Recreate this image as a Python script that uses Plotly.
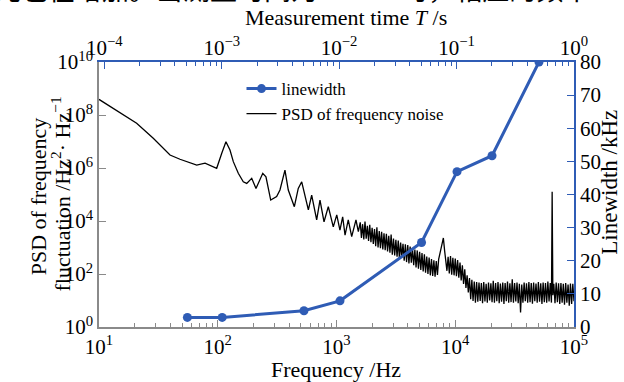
import plotly.graph_objects as go

# ---------------- data ----------------
# Linewidth vs. frequency (blue series, right axis, kHz)
lw_freq_hz = [55.5, 109, 532, 1070, 5200, 10350, 20400, 50700]
lw_khz = [2.9, 2.9, 4.9, 7.9, 25.5, 46.9, 51.7, 80.0]

# PSD of frequency noise (black trace, left axis) as log10 values
psd_log10_freq = [
    1.000, 1.317, 1.457, 1.598, 1.682, 1.823, 1.893, 1.991, 2.033, 2.069,
    2.103, 2.131, 2.173, 2.215, 2.244, 2.286, 2.322, 2.379, 2.406, 2.446,
    2.496, 2.524, 2.566, 2.594, 2.645, 2.678, 2.707, 2.735, 2.763, 2.791,
    2.833, 2.861, 2.895, 2.931, 2.973, 3.002, 3.029, 3.052, 3.072, 3.099,
    3.128, 3.164, 3.184,
    3.20, 3.21, 3.22, 3.23, 3.24, 3.25, 3.26, 3.27, 3.28, 3.29,
    3.30, 3.31, 3.32, 3.33, 3.34, 3.35, 3.36, 3.37, 3.38, 3.39,
    3.40, 3.41, 3.42, 3.43, 3.44, 3.45, 3.46, 3.47, 3.48, 3.49,
    3.50, 3.51, 3.52, 3.53, 3.54, 3.55, 3.56, 3.57, 3.58, 3.59,
    3.60, 3.61, 3.62, 3.63, 3.64, 3.65, 3.66, 3.67, 3.68, 3.69,
    3.70, 3.71, 3.72, 3.73, 3.74, 3.75, 3.76, 3.77, 3.78, 3.79,
    3.80, 3.81, 3.82, 3.83, 3.84, 3.85, 3.86, 3.87, 3.88, 3.89,
    3.90, 3.91, 3.92, 3.93, 3.94, 3.95, 3.96, 3.97, 3.98, 3.99,
    4.00, 4.01, 4.02, 4.03, 4.04, 4.05, 4.06, 4.07, 4.08, 4.09,
    4.10, 4.11, 4.12, 4.13, 4.14, 4.15, 4.16, 4.17, 4.18, 4.19,
    4.20, 4.21, 4.22, 4.23, 4.24, 4.25, 4.26, 4.27, 4.28, 4.29,
    4.30, 4.31, 4.32, 4.33, 4.34, 4.35, 4.36, 4.37, 4.38, 4.39,
    4.40, 4.41, 4.42, 4.43, 4.44, 4.45, 4.46, 4.47, 4.48, 4.49,
    4.50, 4.51, 4.52, 4.53, 4.54, 4.55, 4.56, 4.57, 4.58, 4.59,
    4.60, 4.61, 4.62, 4.63, 4.64, 4.65, 4.66, 4.67, 4.68, 4.69,
    4.70, 4.71, 4.72, 4.73, 4.74, 4.75, 4.76, 4.77, 4.78, 4.79,
    4.80, 4.81, 4.816, 4.822, 4.83, 4.84, 4.85, 4.86, 4.87, 4.88,
    4.89, 4.90, 4.91, 4.92, 4.93, 4.94, 4.95, 4.96, 4.97, 4.98,
    4.99, 5.00,
]
psd_log10_value = [
    8.59, 7.69, 7.12, 6.49, 6.33, 6.11, 6.18, 5.99, 6.55, 6.99,
    6.68, 6.24, 5.80, 5.48, 5.42, 5.61, 5.23, 5.80, 5.67, 4.79,
    4.92, 5.17, 5.92, 5.17, 4.54, 5.23, 5.48, 4.92, 4.42, 4.98,
    4.04, 4.79, 3.97, 4.54, 3.78, 4.23, 3.66, 4.16, 3.47, 4.04,
    3.41, 4.04, 3.60,
    3.95, 3.36, 3.88, 3.30, 3.98, 3.33, 3.82, 3.25, 3.86, 3.20,
    3.74, 3.13, 3.70, 3.05, 3.76, 3.00, 3.62, 2.97, 3.59, 2.93,
    3.54, 2.90, 3.52, 2.85, 3.44, 2.80, 3.49, 2.73, 3.34, 2.70,
    3.29, 2.65, 3.26, 2.57, 3.19, 2.63, 3.14, 2.50, 3.12, 2.45,
    3.09, 2.40, 3.04, 2.43, 2.96, 2.33, 2.92, 2.25, 2.89, 2.20,
    2.84, 2.15, 2.79, 2.10, 2.74, 2.05, 2.66, 2.00, 2.62, 1.95,
    2.56, 1.93, 2.52, 1.90, 2.49, 1.96, 2.55, 2.75, 3.05, 3.20,
    3.36, 2.90, 2.60, 2.12, 2.65, 2.02, 2.68, 1.97, 2.61, 1.95,
    2.58, 1.92, 2.53, 1.86, 2.43, 1.76, 2.33, 1.62, 2.18, 1.47,
    1.95, 1.30, 1.85, 1.05, 1.78, 0.98, 1.72, 0.92, 1.70, 0.95,
    1.68, 0.98, 1.66, 0.90, 1.70, 0.96, 1.63, 0.92, 1.68, 1.00,
    1.65, 0.94, 1.74, 0.92, 1.66, 0.97, 1.70, 0.90, 1.64, 0.95,
    1.68, 0.87, 1.66, 0.97, 1.72, 0.92, 1.65, 0.94, 1.80, 0.92,
    1.66, 0.96, 1.68, 0.90, 1.63, 0.55, 1.60, 0.92, 1.68, 0.97,
    1.65, 0.92, 1.70, 0.94, 1.66, 0.88, 1.68, 0.97, 1.64, 0.92,
    1.70, 0.95, 1.65, 0.87, 1.68, 0.94, 1.66, 0.92, 1.72, 0.96,
    1.66, 0.92, 5.10, 1.20, 1.63, 0.90, 1.68, 0.94, 1.65, 0.87,
    1.66, 0.92, 1.63, 0.84, 1.66, 0.92, 1.60, 0.80, 1.64, 0.87,
    1.63, 0.97,
]

bottom_tick_exponents = [1, 2, 3, 4, 5]
top_tick_exponents = [-4, -3, -2, -1, 0]
left_tick_exponents = [0, 2, 4, 6, 8, 10]
right_ticks = [0, 10, 20, 30, 40, 50, 60, 70, 80]

# ---------------- style ----------------
BLUE = "#2f5cb5"
GREY = "#8a8a8a"
SERIF = "Liberation Serif, Times New Roman, serif"
FS = 22     # axis titles
TFS = 21    # tick labels

psd_freq = [10 ** v for v in psd_log10_freq]
psd_val = [10 ** v for v in psd_log10_value]

def sup(e):
    return "10<sup>" + str(e).replace("-", "\u2212") + "</sup>"

fig = go.Figure()
fig.add_trace(go.Scatter(
    x=lw_freq_hz, y=lw_khz, xaxis="x", yaxis="y2", name="linewidth",
    mode="lines+markers", line=dict(color=BLUE, width=3),
    marker=dict(color=BLUE, size=9, symbol="circle"),
))
fig.add_trace(go.Scatter(
    x=psd_freq, y=psd_val, xaxis="x", yaxis="y", name="PSD of frequency noise",
    mode="lines", line=dict(color="black", width=1.3),
))
# empty trace so that the top (measurement time) axis is drawn
fig.add_trace(go.Scatter(x=[], y=[], xaxis="x2", yaxis="y", showlegend=False,
                         hoverinfo="skip"))

minor_bottom = [m * 10 ** k for k in range(1, 5) for m in range(2, 10)]
minor_top = [m * 10 ** k for k in range(-5, 0) for m in range(2, 10)]

fig.update_layout(
    width=624, height=382,
    margin=dict(l=99, r=50, t=62, b=55, autoexpand=False),
    paper_bgcolor="white", plot_bgcolor="white",
    font=dict(family=SERIF, size=FS, color="black"),
    showlegend=True,
    legend=dict(x=0.30, y=0.814, yref="container", xanchor="left", yanchor="top",
                bgcolor="rgba(0,0,0,0)", font=dict(size=17, family=SERIF),
                itemwidth=30, tracegroupgap=0),
    xaxis=dict(
        type="log", range=[1, 5], side="bottom", showgrid=False, zeroline=False,
        showline=True, linecolor=GREY, linewidth=1.5,
        ticks="inside", ticklen=7, tickcolor=GREY, tickwidth=1,
        tickmode="array", tickvals=[10 ** e for e in bottom_tick_exponents],
        ticktext=[sup(e) for e in bottom_tick_exponents],
        minor=dict(tickmode="array", tickvals=minor_bottom, ticks="inside",
                   ticklen=4, tickcolor=GREY, showgrid=False),
        tickfont=dict(size=TFS),
    ),
    xaxis2=dict(
        type="log", range=[-4.045, 0], side="top", overlaying="x", anchor="y",
        showgrid=False, zeroline=False,
        showline=True, linecolor=BLUE, linewidth=1.5,
        ticks="inside", ticklen=7, tickcolor=BLUE, tickwidth=1,
        tickmode="array", tickvals=[10 ** e for e in top_tick_exponents],
        ticktext=[sup(e) for e in top_tick_exponents],
        minor=dict(tickmode="array", tickvals=minor_top, ticks="inside",
                   ticklen=4, tickcolor=BLUE, showgrid=False),
        tickfont=dict(size=TFS), ticklabelstandoff=-3,
    ),
    yaxis=dict(
        type="log", range=[0, 10], showgrid=False, zeroline=False,
        showline=True, linecolor=GREY, linewidth=1.5,
        ticks="inside", ticklen=7, tickcolor=GREY, tickwidth=1,
        tickmode="array", tickvals=[10 ** e for e in left_tick_exponents],
        ticktext=[sup(e) for e in left_tick_exponents],
        tickfont=dict(size=TFS),
    ),
    yaxis2=dict(
        range=[0, 80], side="right", overlaying="y", anchor="x",
        showgrid=False, zeroline=False,
        showline=True, linecolor=BLUE, linewidth=1.5,
        ticks="inside", ticklen=7, tickcolor=BLUE, tickwidth=1,
        tickmode="array", tickvals=right_ticks,
        ticktext=[str(v) for v in right_ticks],
        tickfont=dict(size=TFS),
    ),
)

ann = [
    dict(text="Frequency /Hz", x=0.499, y=-0.162, size=FS),
    dict(text="Measurement time <i>T</i> /s", x=0.52, y=1.168, size=FS),
    dict(text="PSD of frequency", x=-0.128, y=0.494, textangle=-90, size=FS),
    dict(text="fluctuation /Hz<sup>2</sup>\u00b7 Hz<sup>\u22121</sup>", x=-0.082, y=0.50,
         textangle=-90, size=FS),
    dict(text="Linewidth /kHz", x=1.074, y=0.545, textangle=-90, size=23),
]
for a in ann:
    size = a.pop("size")
    fig.add_annotation(xref="paper", yref="paper", showarrow=False,
                       xanchor="center", yanchor="middle",
                       font=dict(family=SERIF, size=size, color="black"), **a)

# clipped line of the surrounding page text at the very top
fig.add_annotation(xref="paper", yref="paper", showarrow=False,
                   x=-0.225, y=1.195, xanchor="left", yanchor="bottom",
                   text="光也在增加。当测量时间为 0.05 s 时，相应的频率",
                   font=dict(family="Noto Sans CJK SC", size=27, color="black"))

fig.write_html("out.html", config={"displayModeBar": False},
               post_script="document.body.style.margin='0';document.body.style.overflow='hidden';")
